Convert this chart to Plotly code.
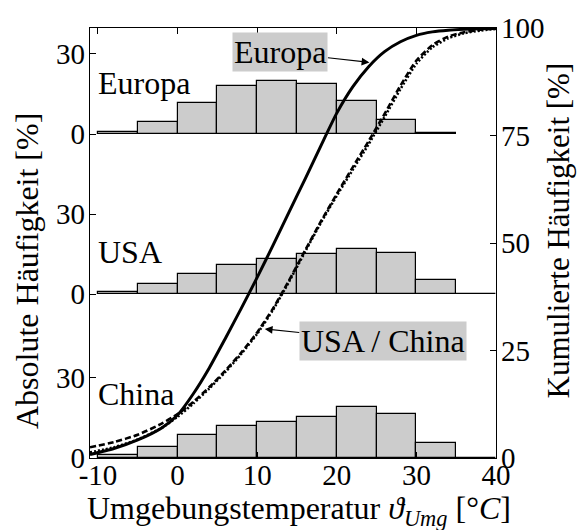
import plotly.graph_objects as go

# ---------------- data ----------------
bin_left = [-10, -5, 0, 5, 10, 15, 20, 25, 30, 35]
bin_width = 5
europa_hist = [0.6, 4.6, 11.6, 17.8, 20.0, 18.8, 12.3, 5.2, 0.5]
usa_hist = [1.0, 3.7, 7.65, 10.95, 13.05, 15.1, 17.05, 15.35, 5.4, 0.0]
china_hist = [1.2, 4.2, 8.75, 12.15, 13.3, 15.45, 19.0, 16.6, 5.45, 0.0]

cdf_x = [-11, -8, -5, -2, 0, 2, 4, 6, 8, 10, 12, 14, 16, 18, 20, 22, 24, 26,
         28, 30, 32, 34, 36, 38, 40]
europa_cdf = [0.8, 2.2, 4.2, 7.0, 10.0, 15.0, 21.0, 27.8, 34.8, 42.0, 49.5,
              57.2, 64.8, 72.6, 80.2, 86.3, 91.0, 94.5, 96.8, 98.3, 99.1,
              99.5, 99.7, 99.85, 99.9]
usa_cdf = [2.5, 3.7, 5.4, 8.0, 10.2, 13.1, 16.5, 20.3, 24.5, 29.2, 34.8,
           41.3, 48.2, 55.0, 61.4, 67.6, 73.7, 80.0, 86.6, 92.4, 96.0, 98.0,
           99.0, 99.6, 99.9]
china_cdf = [1.3, 2.5, 4.3, 7.0, 9.6, 12.7, 16.2, 20.0, 24.2, 28.9, 34.5,
             41.0, 47.9, 54.7, 61.0, 67.0, 73.0, 79.3, 85.8, 91.7, 95.5, 97.6,
             98.8, 99.4, 99.8]

regions = ["Europa", "USA", "China"]
hist_by_region = {"Europa": europa_hist, "USA": usa_hist, "China": china_hist}
panel_base = {"China": 0.0, "USA": 61.3, "Europa": 121.3}
left_range = [0, 161]

x_ticks = [-10, 0, 10, 20, 30, 40]
x_ticktext = ["-10", "0", "10", "20", "30", "40"]
hist_ticks = [0, 30]
cdf_ticks = [0, 25, 50, 75, 100]

FONT = "Liberation Serif"
FS_TICK = 29
FS = 32

fig = go.Figure()

for reg in regions:
    vals = hist_by_region[reg]
    centers = [b + bin_width / 2 for b in bin_left[:len(vals)]]
    fig.add_trace(go.Bar(
        x=centers, y=vals, base=[panel_base[reg]] * len(vals),
        width=bin_width, marker=dict(color="#cccccc",
                                     line=dict(color="black", width=1.2)),
        yaxis="y", showlegend=False, hoverinfo="skip"))

for vals, dash in [(usa_cdf, "6px,3px"), (china_cdf, "2px,2px"),
                   (europa_cdf, "solid")]:
    fig.add_trace(go.Scatter(
        x=cdf_x, y=vals, mode="lines", yaxis="y2",
        line=dict(color="black", width=3 if dash == "solid" else 2.6,
                  dash=dash, shape="spline", smoothing=0.6),
        showlegend=False, hoverinfo="skip"))

left_tickvals = []
left_ticktext = []
for reg in ["China", "USA", "Europa"]:
    for t in hist_ticks:
        left_tickvals.append(panel_base[reg] + t)
        left_ticktext.append(str(t))

axis_common = dict(showgrid=False, zeroline=False, showline=True,
                   linecolor="black", linewidth=1.3, ticks="inside",
                   ticklen=6, tickwidth=1, tickcolor="black",
                   tickfont=dict(family=FONT, size=FS_TICK, color="black"))

fig.update_layout(
    width=577, height=530,
    margin=dict(l=90, r=81, t=28, b=72),
    paper_bgcolor="white", plot_bgcolor="white",
    font=dict(family=FONT, size=FS, color="black"),
    barmode="overlay", bargap=0,
    xaxis=dict(range=[-11, 40], tickvals=x_ticks, ticktext=x_ticktext,
               mirror="ticks", ticklabelstandoff=-9, **axis_common),
    yaxis=dict(range=left_range, tickvals=left_tickvals,
               ticktext=left_ticktext, ticklabelstandoff=-2, **axis_common),
    yaxis2=dict(range=[0, 100], tickvals=cdf_ticks, overlaying="y",
                side="right", ticklabelstandoff=-2, **axis_common),
)

F = dict(family=FONT, size=FS, color="black")
annotations = [
    dict(text="Umgebungstemperatur <i>ϑ</i><sub><i>Umg</i></sub> [°<i>C</i>]",
         xref="paper", yref="paper", x=0.515, y=-0.122, showarrow=False,
         xanchor="center", yanchor="middle", font=F),
    dict(text="Absolute Häufigkeit [%]", xref="paper", yref="paper",
         x=-0.155, y=0.435, showarrow=False, textangle=-90,
         xanchor="center", yanchor="middle", font=F),
    dict(text="Kumulierte Häufigkeit [%]", xref="paper", yref="paper",
         x=1.155, y=0.529, showarrow=False, textangle=-90,
         xanchor="center", yanchor="middle",
         font=dict(family=FONT, size=FS - 1, color="black")),
    dict(text="Europa", xref="paper", yref="paper", x=0.015, y=0.872,
         showarrow=False, xanchor="left", yanchor="middle", font=F),
    dict(text="USA", xref="paper", yref="paper", x=0.015, y=0.48,
         showarrow=False, xanchor="left", yanchor="middle", font=F),
    dict(text="China", xref="paper", yref="paper", x=0.015, y=0.150,
         showarrow=False, xanchor="left", yanchor="middle", font=F),
    dict(text="Europa", xref="x", yref="y2", x=24.1, y=92, ax=-89, ay=-10,
         showarrow=True, arrowhead=2, arrowsize=1.3, arrowwidth=1.2,
         arrowcolor="black", bgcolor="#cccccc", borderpad=1, font=F),
    dict(text="USA / China", xref="x", yref="y2", x=10.95, y=30.0, ax=118,
         ay=12, showarrow=True, arrowhead=2, arrowsize=1.3, arrowwidth=1.2,
         arrowcolor="black", bgcolor="#cccccc", borderpad=1, font=F),
]
fig.update_layout(annotations=annotations)

fig.write_html("out.html")
